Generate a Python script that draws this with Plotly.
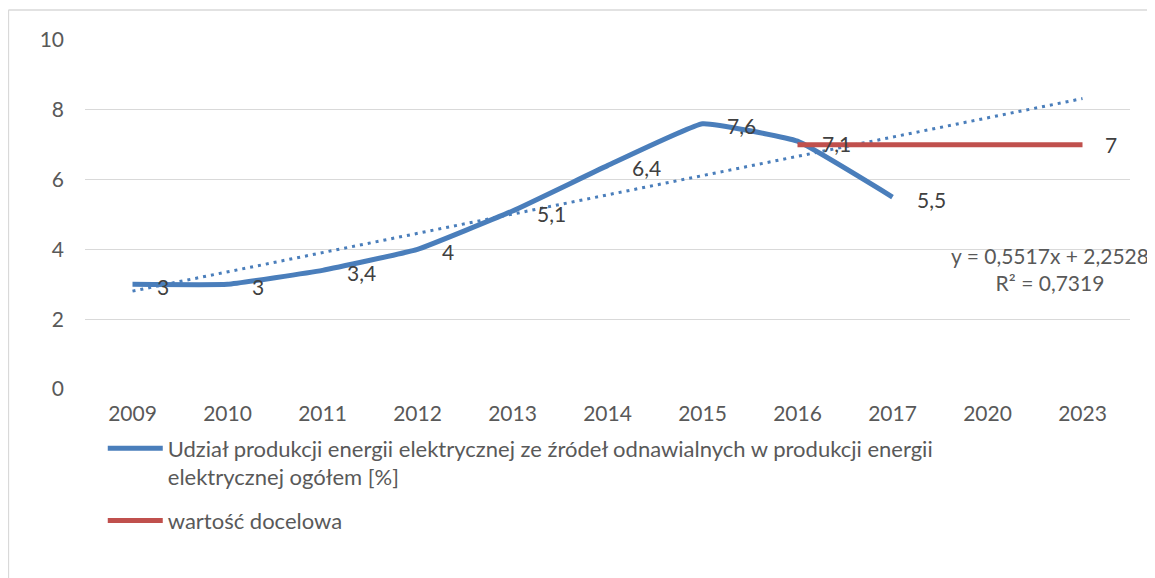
import numpy as np
import plotly.graph_objects as go

years = ["2009", "2010", "2011", "2012", "2013", "2014", "2015", "2016", "2017", "2020", "2023"]
share = [3, 3, 3.4, 4, 5.1, 6.4, 7.6, 7.1, 5.5, None, None]
target = [None, None, None, None, None, None, None, 7, 7, 7, 7]
share_name = ("Udział produkcji energii elektrycznej ze źródeł odnawialnych w produkcji energii"
              "<br>elektrycznej ogółem [%]")
target_name = "wartość docelowa"

FONT = "Lato"
BLUE = "#4A7EBB"
RED = "#C0504D"
GRID = "#D9D9D9"
TXT = "#595959"
LBL = "#404040"

idx = list(range(1, len(years) + 1))
known = [(i, v) for i, v in zip(idx, share) if v is not None]
kx = np.array([k[0] for k in known], dtype=float)
ky = np.array([k[1] for k in known], dtype=float)
slope, intercept = np.polyfit(kx, ky, 1)
pred = slope * kx + intercept
r2 = 1 - np.sum((ky - pred) ** 2) / np.sum((ky - ky.mean()) ** 2)
trend_x = [idx[0], idx[-1]]
trend_y = [slope * x + intercept for x in trend_x]

def fmt(v, d=None):
    s = f"{v:.{d}f}" if d is not None else f"{v:g}"
    return s.replace(".", ",")

fig = go.Figure()
fig.add_trace(go.Scatter(x=trend_x, y=trend_y, mode="lines", showlegend=False,
                         line=dict(color=BLUE, width=3, dash="3px,5px"), hoverinfo="skip"))
fig.add_trace(go.Scatter(x=idx, y=share, mode="lines", name=share_name, legendgroup="a",
                         line=dict(color=BLUE, width=5, shape="spline", smoothing=0.3)))
fig.add_trace(go.Scatter(x=idx, y=target, mode="lines", name=target_name, legendgroup="b",
                         line=dict(color=RED, width=5)))

ann = []
for i, v in zip(idx, share):
    if v is not None:
        ann.append(dict(x=i, y=v, xref="x", yref="y", text=fmt(v), showarrow=False,
                        xanchor="left", yanchor="middle", xshift=22, yshift=-2,
                        font=dict(family=FONT, size=21, color=LBL)))
ann.append(dict(x=idx[-1], y=target[-1], xref="x", yref="y", text=fmt(target[-1]),
                showarrow=False, xanchor="left", yanchor="middle", xshift=20,
                font=dict(family=FONT, size=21, color=LBL)))
ann.append(dict(x=0.923, y=0.344, xref="paper", yref="paper", showarrow=False,
                align="center", xanchor="center", yanchor="middle",
                text=f"y = {fmt(slope, 4)}x + {fmt(intercept, 4)}<br>R² = {fmt(r2, 4)}",
                font=dict(family=FONT, size=21, color=TXT)))

fig.update_layout(
    width=1147, height=570,
    margin=dict(l=77, r=25, t=32, b=189),
    paper_bgcolor="white", plot_bgcolor="white",
    font=dict(family=FONT, size=21, color=TXT),
    showlegend=True,
    legend=dict(x=0.017, y=-0.11, xanchor="left", yanchor="top", orientation="v",
                itemwidth=55, tracegroupgap=12, valign="top",
                font=dict(family=FONT, size=22, color=TXT),
                bgcolor="rgba(0,0,0,0)"),
    annotations=ann,
    shapes=[
        dict(type="line", xref="paper", yref="paper", x0=-0.0733, x1=1.05, y0=1.086, y1=1.086,
             line=dict(color=GRID, width=1.5), layer="below"),
        dict(type="line", xref="paper", yref="paper", x0=-0.0733, x1=-0.0733, y0=-0.6, y1=1.086,
             line=dict(color=GRID, width=1.5), layer="below"),
    ],
)
fig.update_xaxes(range=[0.5, len(years) + 0.5], tickmode="array", tickvals=idx, ticktext=years,
                 showgrid=False, zeroline=False, showline=False, ticks="",
                 ticklabelstandoff=10, tickfont=dict(family=FONT, size=21, color=TXT))
fig.update_yaxes(range=[0, 10], dtick=2, showgrid=True, gridcolor=GRID, gridwidth=1.3,
                 zeroline=False, showline=False, ticks="", ticklabelstandoff=20,
                 tickfont=dict(family=FONT, size=21, color=TXT))

fig.write_html("out.html")
